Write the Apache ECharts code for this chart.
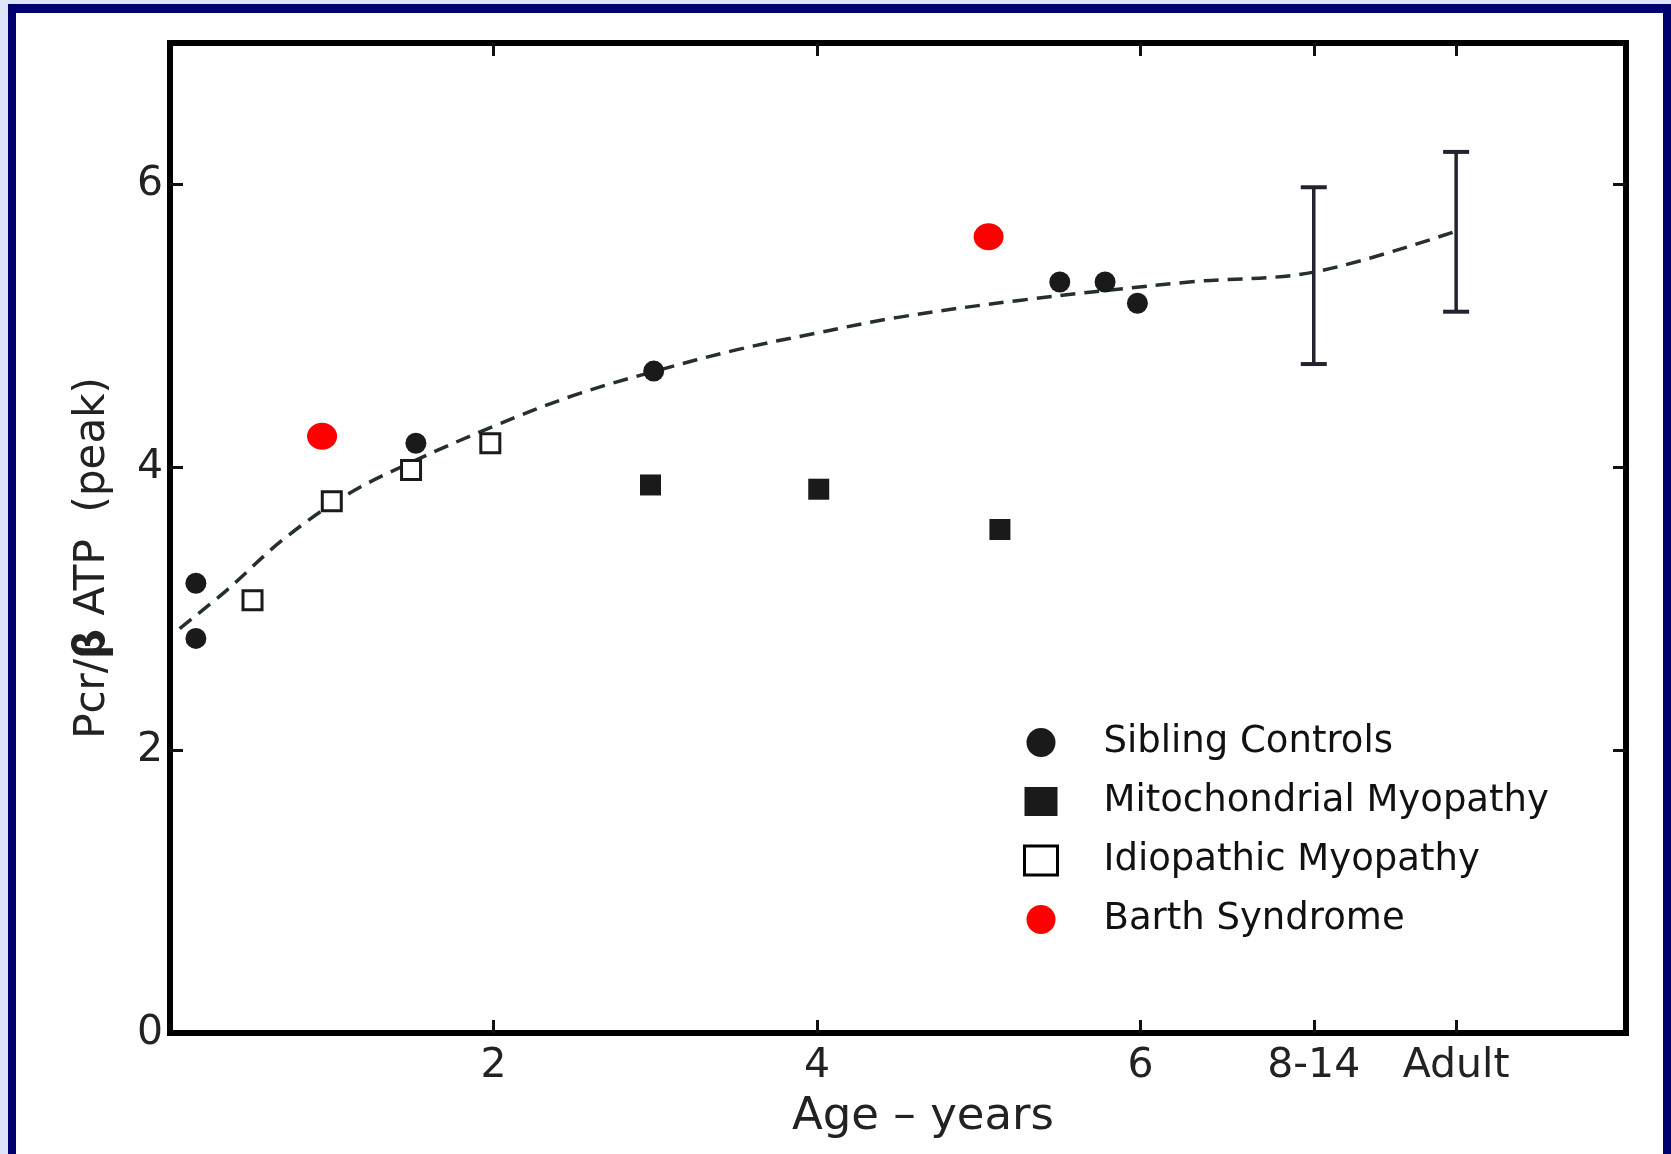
<!DOCTYPE html>
<html><head><meta charset="utf-8">
<script src="https://cdn.jsdelivr.net/npm/echarts@6/dist/echarts.min.js"></script>
<style>
html,body{margin:0;padding:0;width:1671px;height:1154px;overflow:hidden;background:#dfe5f8;}
#navy{position:absolute;left:8px;top:4px;right:0;bottom:0;background:#00006e;}
#white{position:absolute;left:16px;top:13px;right:8px;bottom:0;background:#fff;}
#chart{position:absolute;left:0;top:0;width:1671px;height:1154px;}
</style></head><body>
<div id="navy"></div><div id="white"></div><div id="chart"></div>
<script>
// ---- data ----
const xTickValues = [2, 4, 6, 7.07, 7.95];
const xTickLabels = ['2', '4', '6', '8-14', 'Adult'];
const yTickValues = [0, 2, 4, 6];
const seriesNames = ['Sibling Controls', 'Mitochondrial Myopathy', 'Idiopathic Myopathy', 'Barth Syndrome'];
const siblingControls = [[0.16, 3.18], [0.16, 2.79], [1.52, 4.17], [2.99, 4.68], [5.50, 5.31], [5.78, 5.31], [5.98, 5.16]];
const mitochondrialMyopathy = [[2.97, 3.875], [4.01, 3.845], [5.13, 3.56]];
const idiopathicMyopathy = [[0.51, 3.06], [1.00, 3.76], [1.49, 3.98], [1.98, 4.17]];
const barthSyndrome = [[0.94, 4.22], [5.06, 5.63]];
const controlRanges = [[7.07, 4.73, 5.98], [7.95, 5.10, 6.23]]; // [x, low, high]
const trendCurve = [[0.06, 2.86], [0.35, 3.13], [0.70, 3.49], [1.10, 3.81], [1.50, 4.04], [2.00, 4.29],
  [2.50, 4.51], [3.00, 4.68], [3.50, 4.83], [4.00, 4.95], [4.50, 5.06], [5.25, 5.18], [6.30, 5.31],
  [7.07, 5.38], [7.95, 5.67]];

const ink = '#1a1a1a';
const font = 'DejaVu Sans';

const chart = echarts.init(document.getElementById('chart'), null, {renderer: 'canvas'});
const axisLineStyle = {color: '#000', width: 6, cap: 'square'};
const tickStyle = {color: '#111', width: 3};

chart.setOption({
  animation: false,
  grid: {left: 170, right: 45, top: 43, bottom: 121, containLabel: false},
  xAxis: [{
    type: 'value', min: 0, max: 9, position: 'bottom',
    splitLine: {show: false},
    axisLine: {show: true, onZero: false, lineStyle: axisLineStyle},
    axisTick: {show: true, inside: true, length: 13, lineStyle: tickStyle, customValues: xTickValues},
    axisLabel: {show: true, margin: 13, color: '#222', fontFamily: font, fontSize: 41,
      customValues: xTickValues,
      formatter: v => { const i = xTickValues.findIndex(t => Math.abs(t - v) < 1e-6); return i >= 0 ? xTickLabels[i] : ''; }},
    name: 'Age – years', nameLocation: 'middle', nameGap: 62,
    nameTextStyle: {fontFamily: font, fontSize: 45, color: '#222', padding: [0, 0, 0, 50]}
  }, {
    type: 'value', min: 0, max: 9, position: 'top',
    splitLine: {show: false},
    axisLine: {show: true, onZero: false, lineStyle: axisLineStyle},
    axisTick: {show: true, inside: true, length: 13, lineStyle: tickStyle, customValues: xTickValues},
    axisLabel: {show: false}
  }],
  yAxis: [{
    type: 'value', min: 0, max: 7, position: 'left',
    splitLine: {show: false},
    axisLine: {show: true, onZero: false, lineStyle: axisLineStyle},
    axisTick: {show: true, inside: true, length: 13, lineStyle: tickStyle, customValues: [2, 4, 6]},
    axisLabel: {show: true, margin: 7, color: '#222', fontFamily: font, fontSize: 41, customValues: yTickValues},
    name: '{n|Pcr/}{b|β}{n| ATP  (peak)}', nameLocation: 'middle', nameRotate: 90, nameGap: 56,
    nameTextStyle: {padding: [0, 40, 0, 0], rich: {
      n: {fontFamily: font, fontSize: 42, color: '#222'},
      b: {fontFamily: font, fontSize: 42, fontWeight: 'bold', color: '#222'}}}
  }, {
    type: 'value', min: 0, max: 7, position: 'right',
    splitLine: {show: false},
    axisLine: {show: true, onZero: false, lineStyle: axisLineStyle},
    axisTick: {show: true, inside: true, length: 13, lineStyle: tickStyle, customValues: [2, 4, 6]},
    axisLabel: {show: false}
  }],
  legend: {
    orient: 'vertical', left: 1018, top: 719, itemWidth: 33, itemHeight: 29, itemGap: 22,
    selectedMode: false,
    data: [
      {name: seriesNames[0], icon: 'circle'},
      {name: seriesNames[1], icon: 'rect'},
      {name: seriesNames[2], icon: 'rect', itemStyle: {color: '#fff', borderColor: '#000', borderWidth: 3}},
      {name: seriesNames[3], icon: 'circle'}
    ],
    textStyle: {fontFamily: font, fontSize: 37, color: '#111', padding: [0, 0, 0, 41]}
  },
  series: [
    {type: 'line', data: trendCurve, smooth: 0.35, showSymbol: false, symbol: 'none',
      lineStyle: {color: '#25302a', width: 3.5, type: [15, 9]}, silent: true, z: 1},
    {type: 'custom', data: controlRanges, encode: {x: 0, y: [1, 2]}, z: 2, silent: true,
      renderItem: function (params, api) {
        const x = api.value(0), lo = api.value(1), hi = api.value(2);
        const pt = api.coord([x, hi]), pb = api.coord([x, lo]);
        const w = 13;
        const col = '#23232e';
        return {type: 'group', children: [
          {type: 'line', shape: {x1: pt[0], y1: pt[1], x2: pb[0], y2: pb[1]}, style: {stroke: col, lineWidth: 3.5}},
          {type: 'line', shape: {x1: pt[0] - w, y1: pt[1], x2: pt[0] + w, y2: pt[1]}, style: {stroke: col, lineWidth: 4}},
          {type: 'line', shape: {x1: pb[0] - w, y1: pb[1], x2: pb[0] + w, y2: pb[1]}, style: {stroke: col, lineWidth: 4}}
        ]};
      }},
    {name: seriesNames[0], type: 'scatter', data: siblingControls, symbol: 'circle', symbolSize: 21,
      itemStyle: {color: ink, opacity: 1}, z: 3},
    {name: seriesNames[1], type: 'scatter', data: mitochondrialMyopathy, symbol: 'rect', symbolSize: 21,
      itemStyle: {color: ink, opacity: 1}, z: 3},
    {name: seriesNames[2], type: 'scatter', data: idiopathicMyopathy, symbol: 'rect', symbolSize: 19,
      itemStyle: {color: '#fff', borderColor: ink, borderWidth: 3, opacity: 1}, z: 3},
    {name: seriesNames[3], type: 'scatter', data: barthSyndrome, symbol: 'circle', symbolSize: [30, 27],
      itemStyle: {color: '#ff0000', opacity: 1}, z: 3}
  ]
});
</script></body></html>
